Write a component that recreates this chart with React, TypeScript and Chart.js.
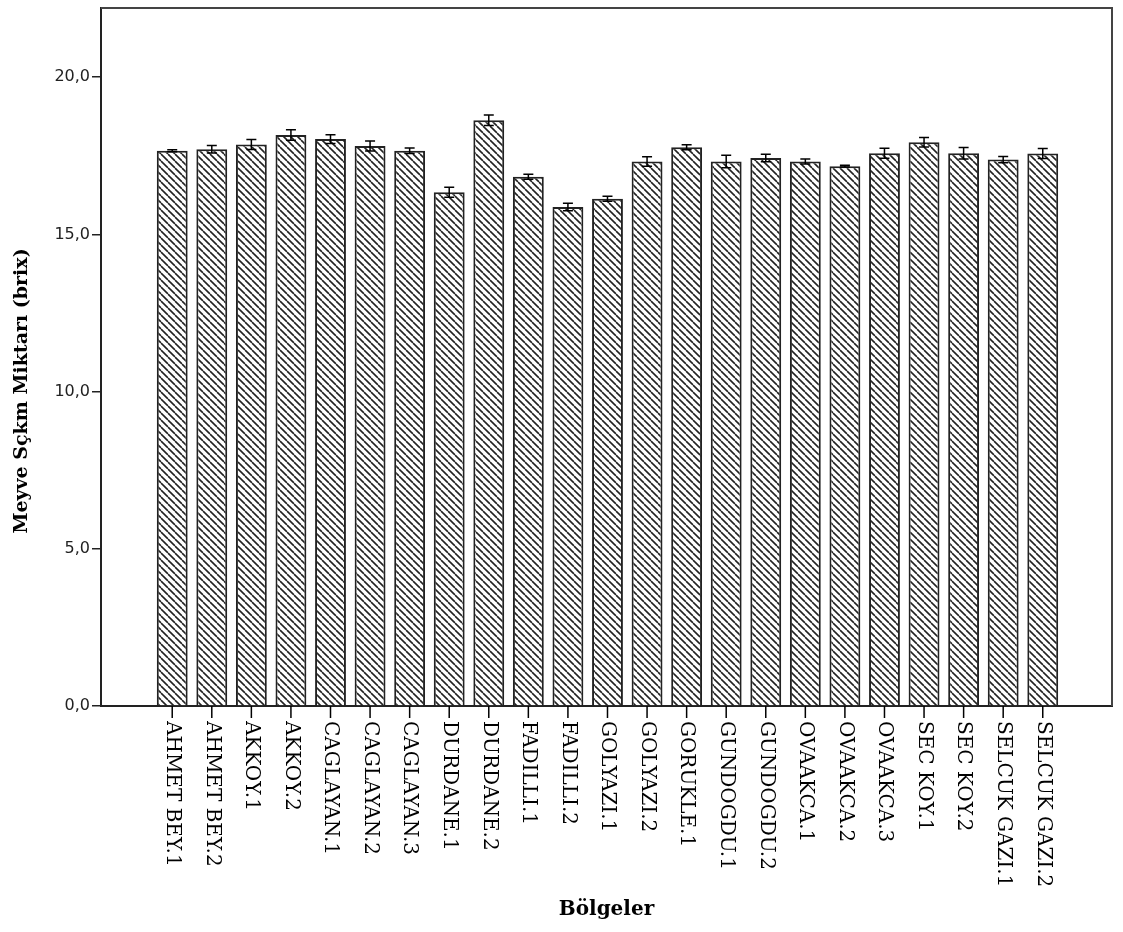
import React, { useEffect, useRef } from "react";
import { Chart, registerables } from "chart.js";

Chart.register(...registerables);

const categories = [
  "AHMET BEY.1", "AHMET BEY.2", "AKKOY.1", "AKKOY.2", "CAGLAYAN.1", "CAGLAYAN.2",
  "CAGLAYAN.3", "DURDANE.1", "DURDANE.2", "FADILLI.1", "FADILLI.2", "GOLYAZI.1",
  "GOLYAZI.2", "GORUKLE.1", "GUNDOGDU.1", "GUNDOGDU.2", "OVAAKCA.1", "OVAAKCA.2",
  "OVAAKCA.3", "SEC KOY.1", "SEC KOY.2", "SELCUK GAZI.1", "SELCUK GAZI.2",
];

const means = [
  17.66, 17.71, 17.86, 18.16, 18.03, 17.81,
  17.66, 16.34, 18.63, 16.83, 15.87, 16.13,
  17.32, 17.77, 17.32, 17.43, 17.32, 17.17,
  17.58, 17.93, 17.58, 17.38, 17.57,
];

const errors = [
  0.03, 0.12, 0.16, 0.17, 0.14, 0.16,
  0.09, 0.16, 0.17, 0.08, 0.12, 0.08,
  0.15, 0.08, 0.2, 0.12, 0.08, 0.03,
  0.16, 0.15, 0.18, 0.1, 0.16,
];

const yTicks = [0, 5, 10, 15, 20];

const yTitle = "Meyve Sçkm Miktarı (brix)";
const xTitle = "Bölgeler";

function makeHatch(): CanvasPattern | string {
  const p = 7;
  const c = document.createElement("canvas");
  c.width = p;
  c.height = p;
  const g = c.getContext("2d");
  if (!g) return "#fff";
  g.fillStyle = "#ffffff";
  g.fillRect(0, 0, p, p);
  g.strokeStyle = "#222";
  g.lineWidth = 1.6;
  for (let k = -1; k <= 1; k++) {
    g.beginPath();
    g.moveTo(k * p, 0);
    g.lineTo(k * p + p, p);
    g.stroke();
  }
  const pat = g.createPattern(c, "repeat");
  return pat || "#fff";
}

export default function App() {
  const ref = useRef<HTMLCanvasElement | null>(null);

  useEffect(() => {
    if (!ref.current) return;
    const hatch = makeHatch();

    const extras = {
      id: "extras",
      afterDatasetsDraw(chart: any) {
        const { ctx, scales } = chart;
        const xs = scales.x;
        const ys = scales.y;
        ctx.save();
        ctx.strokeStyle = "#000";
        ctx.lineWidth = 1.5;
        means.forEach((m, i) => {
          const x = xs.getPixelForValue(i);
          const yt = ys.getPixelForValue(m + errors[i]);
          const yb = ys.getPixelForValue(m - errors[i]);
          ctx.beginPath();
          ctx.moveTo(x, yt);
          ctx.lineTo(x, yb);
          ctx.moveTo(x - 5, yt);
          ctx.lineTo(x + 5, yt);
          ctx.moveTo(x - 5, yb);
          ctx.lineTo(x + 5, yb);
          ctx.stroke();
        });
        ctx.restore();
      },
      afterDraw(chart: any) {
        const { ctx, scales, chartArea } = chart;
        const xs = scales.x;
        ctx.save();
        // frame top/right
        ctx.strokeStyle = "#444";
        ctx.lineWidth = 2;
        ctx.beginPath();
        ctx.moveTo(chartArea.left, chartArea.top);
        ctx.lineTo(chartArea.right, chartArea.top);
        ctx.lineTo(chartArea.right, chartArea.bottom);
        ctx.stroke();
        // x ticks and labels
        ctx.strokeStyle = "#000";
        ctx.lineWidth = 1.5;
        ctx.fillStyle = "#000";
        ctx.font = '20px "DejaVu Serif"';
        ctx.textAlign = "left";
        ctx.textBaseline = "middle";
        categories.forEach((lab, i) => {
          const x = xs.getPixelForValue(i);
          ctx.beginPath();
          ctx.moveTo(x, chartArea.bottom);
          ctx.lineTo(x, chartArea.bottom + 12);
          ctx.stroke();
          ctx.save();
          ctx.translate(x, chartArea.bottom + 15);
          ctx.rotate(Math.PI / 2);
          ctx.fillText(lab, 0, 0);
          ctx.restore();
        });
        // titles
        ctx.font = 'bold 20px "DejaVu Serif"';
        ctx.textAlign = "center";
        ctx.textBaseline = "middle";
        ctx.fillText(xTitle, (chartArea.left + chartArea.right) / 2, 910);
        ctx.save();
        ctx.font = 'bold 19px "DejaVu Serif"';
        ctx.translate(22, 391);
        ctx.rotate(-Math.PI / 2);
        ctx.fillText(yTitle, 0, 0);
        ctx.restore();
        ctx.restore();
      },
    };

    const chart = new Chart(ref.current, {
      type: "bar",
      data: {
        datasets: [
          {
            data: means.map((v, i) => ({ x: i, y: v })),
            backgroundColor: hatch as any,
            borderColor: "#222",
            borderWidth: 2,
            barPercentage: 1,
            categoryPercentage: 0.78,
          },
        ],
      },
      options: {
        animation: false,
        responsive: true,
        maintainAspectRatio: false,
        layout: { padding: { top: 8, right: 11, left: 0, bottom: 0 } },
        plugins: { legend: { display: false }, tooltip: { enabled: false } },
        scales: {
          x: {
            type: "linear",
            offset: false,
            min: -1.8,
            max: 23.75,
            grid: { display: false },
            ticks: { display: false },
            border: { display: true, color: "#222", width: 2 },
            afterFit: (s: any) => {
              s.height = 226;
              s.paddingLeft = 0;
              s.paddingRight = 0;
            },
          },
          y: {
            type: "linear",
            min: 0,
            max: 22.2,
            afterBuildTicks: (s: any) => {
              s.ticks = yTicks.map((v) => ({ value: v }));
            },
            ticks: {
              includeBounds: false,
              color: "#222",
              padding: 2,
              font: { family: "DejaVu Sans", size: 16 },
              callback: (v: any) => Number(v).toFixed(1).replace(".", ","),
            },
            grid: {
              display: true,
              drawOnChartArea: false,
              drawTicks: true,
              tickLength: 9,
              color: "#222",
              lineWidth: 1.5,
            },
            border: { display: true, color: "#222", width: 2 },
            afterFit: (s: any) => {
              s.width = 101;
              s.paddingTop = 0;
              s.paddingBottom = 0;
            },
          },
        },
      },
      plugins: [extras],
    });
    return () => chart.destroy();
  }, []);

  return (
    <div style={{ position: "fixed", left: 0, top: 0, width: 1123, height: 932, background: "#fff" }}>
      <canvas ref={ref} />
    </div>
  );
}
